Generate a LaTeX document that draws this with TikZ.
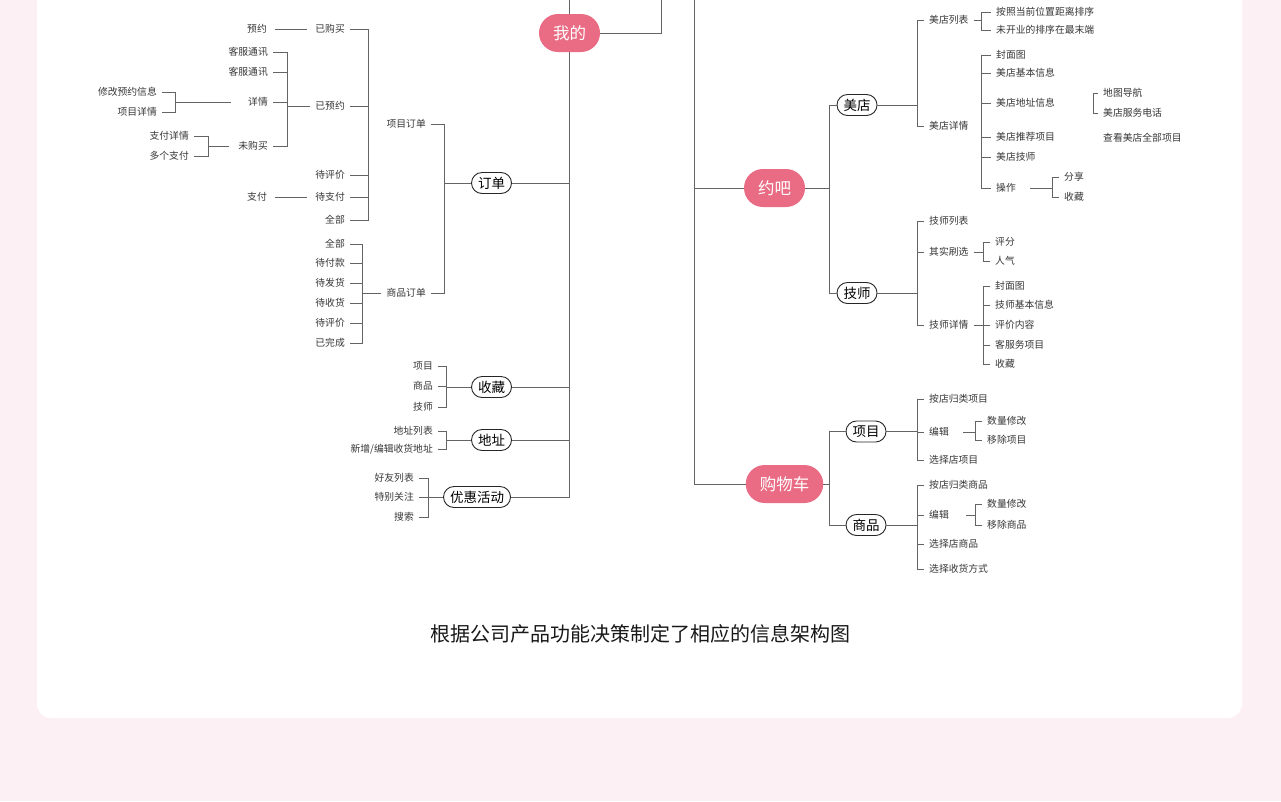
\documentclass[tikz,border=0pt]{standalone}
\usepackage{fontspec}
\setmainfont{Noto Sans CJK SC}
\usepackage{tikz}
\usetikzlibrary{positioning, calc}
\definecolor{bgpink}{RGB}{252,240,244}
\definecolor{hubpink}{RGB}{233,108,132}
\definecolor{linegray}{RGB}{100,100,100}
\definecolor{textgray}{RGB}{55,55,55}
\tikzset{
  ln/.style={draw=linegray, line width=1pt},
  lk/.style={ln, shorten >=3pt, shorten <=3pt},
  txt/.style={font=\fontsize{9.8}{11}\selectfont, text=textgray,
    inner xsep=5pt, inner ysep=2pt},
  txtl/.style={txt, anchor=east},
  txtr/.style={txt, anchor=west},
  hub/.style={rectangle, rounded corners=19pt, fill=hubpink, text=white,
    font=\fontsize{16.5}{18}\selectfont, minimum height=38pt,
    inner xsep=14pt, inner ysep=0pt},
  sub/.style={rectangle, rounded corners=10.5pt, draw=black!85, fill=white,
    line width=0.9pt, font=\fontsize{13.5}{15}\selectfont,
    minimum height=21pt, inner xsep=6.5pt, inner ysep=0pt}
}

\begin{document}
\begin{tikzpicture}[x=1pt, y=-1pt]

  %% ── background ───────────────────────────────────────────
  \useasboundingbox (0,0) rectangle (1281,801);
  \fill[bgpink] (0,0) rectangle (1281,801);
  \fill[white, rounded corners=14pt] (37,-30) rectangle (1242,718);

  %% ── hubs and trunks ──────────────────────────────────────
  \node[hub] (wd)  at (569.5,33)  {我的};
  \node[hub] (yb)  at (774.5,188) {约吧};
  \node[hub] (gwc) at (784.5,484) {购物车};

  \coordinate (topl) at (569.5,0);
  \coordinate (topm) at (661,0);
  \coordinate (topr) at (694,0);

  \node[sub] (dd) at (491.5,183) {订单};
  \node[sub] (sc) at (491.5,387) {收藏};
  \node[sub] (dz) at (491.5,440) {地址};
  \node[sub] (yh) at (477,497)   {优惠活动};

  \draw[ln] (topl) -- (wd.north);
  \draw[ln] (wd.east) -| (topm);
  \draw[ln] (wd.south) |- (yh.east);
  \foreach \n in {dd, sc, dz}
    \draw[ln] (\n.east) -- (wd.south |- \n.east);
  \draw[ln] (topr) |- (gwc.west);
  \draw[ln] (yb.west) -- (topr |- yb.west);

  \node[sub] (md) at (857,105)   {美店};
  \node[sub] (js) at (857,293)   {技师};
  \node[sub] (xm) at (866,431.5) {项目};
  \node[sub] (sp) at (866,525)   {商品};

  \coordinate (s-yb) at (829,0);
  \draw[ln] (md.west) -| (s-yb |- js.west) -- (js.west);
  \draw[ln] (yb.east) -- (s-yb |- yb.east);
  \draw[ln] (xm.west) -| (s-yb |- sp.west) -- (sp.west);
  \draw[ln] (gwc.east) -- (s-yb |- gwc.east);

  %% ── 订单 ─────────────────────────────────────────────────
  \node[txtl] (xmdd) at (431,124) {项目订单};
  \node[txtl] (spdd) at (431,293) {商品订单};
  \coordinate (s-dd) at (444,0);
  \draw[ln] (xmdd.east) -| (s-dd |- spdd.east) -- (spdd.east);
  \draw[ln] (dd.west) -- (s-dd |- dd.west);

  \foreach \lab/\ypos [count=\i] in {已购买/29, 已预约/106, 待评价/175, 待支付/197, 全部/220}
    \node[txtl] (xo\i) at (350,\ypos) {\lab};
  \coordinate (s-xo) at (368,0);
  \draw[ln] (xo1.east) -| (s-xo |- xo5.east) -- (xo5.east);
  \foreach \i in {2,3,4}
    \draw[ln] (xo\i.east) -- (s-xo |- xo\i.east);

  \node[txtl] (yy) at (272,29)  {预约};
  \node[txtl] (zf) at (272,197) {支付};
  \draw[lk] (yy.east) -- (xo1.west);
  \draw[lk] (zf.east) -- (xo4.west);

  \foreach \lab/\ypos [count=\i] in {客服通讯/52, 客服通讯/72, 详情/102, 未购买/146}
    \node[txtl] (yo\i) at (273,\ypos) {\lab};
  \coordinate (s-yo) at (287,0);
  \draw[ln] (yo1.east) -| (s-yo |- yo4.east) -- (yo4.east);
  \foreach \i in {2,3}
    \draw[ln] (yo\i.east) -- (s-yo |- yo\i.east);
  \draw[ln] (xo2.west) -- (s-yo |- xo2.west);

  \node[txtl] (xq1) at (162,92)  {修改预约信息};
  \node[txtl] (xq2) at (162,112) {项目详情};
  \coordinate (s-xq) at (175,0);
  \draw[ln] (xq1.east) -| (s-xq |- xq2.east) -- (xq2.east);
  \draw[ln, shorten <=12pt] (yo3.west) -- (s-xq |- yo3.west);

  \node[txtl] (wg1) at (194,136) {支付详情};
  \node[txtl] (wg2) at (194,156) {多个支付};
  \coordinate (s-wg) at (208,0);
  \draw[ln] (wg1.east) -| (s-wg |- wg2.east) -- (wg2.east);
  \draw[ln, shorten <=4pt] (yo4.west) -- (s-wg |- yo4.west);

  \foreach \lab/\ypos [count=\i] in {全部/244, 待付款/263, 待发货/283, 待收货/303, 待评价/323, 已完成/343}
    \node[txtl] (so\i) at (350,\ypos) {\lab};
  \coordinate (s-so) at (362,0);
  \draw[ln] (so1.east) -| (s-so |- so6.east) -- (so6.east);
  \foreach \i in {2,...,5}
    \draw[ln] (so\i.east) -- (s-so |- so\i.east);
  \draw[ln] (spdd.west) -- (s-so |- spdd.west);

  %% ── 收藏 / 地址 / 优惠活动 ───────────────────────────────
  \coordinate (s-sc) at (446,0);
  \foreach \lab/\ypos [count=\i] in {项目/366, 商品/386, 技师/407}
    \node[txtl] (sc\i) at (438,\ypos) {\lab};
  \draw[ln] (sc1.east) -| (s-sc |- sc3.east) -- (sc3.east);
  \draw[ln] (sc2.east) -- (s-sc |- sc2.east);
  \draw[ln] (sc.west) -- (s-sc |- sc.west);

  \foreach \lab/\ypos [count=\i] in {地址列表/431, {新增/编辑收货地址}/449}
    \node[txtl] (dz\i) at (438,\ypos) {\lab};
  \draw[ln] (dz1.east) -| (s-sc |- dz2.east) -- (dz2.east);
  \draw[ln] (dz.west) -- (s-sc |- dz.west);

  \foreach \lab/\ypos [count=\i] in {好友列表/478, 特别关注/497, 搜索/517}
    \node[txtl] (yh\i) at (419,\ypos) {\lab};
  \coordinate (s-yh) at (428,0);
  \draw[ln] (yh1.east) -| (s-yh |- yh3.east) -- (yh3.east);
  \draw[ln] (yh2.east) -- (yh.west);

  %% ── 美店 ─────────────────────────────────────────────────
  \coordinate (s-md) at (917,0);
  \foreach \lab/\ypos [count=\i] in {美店列表/20, 美店详情/126}
    \node[txtr] (md\i) at (924,\ypos) {\lab};
  \draw[ln] (md1.west) -| (s-md |- md2.west) -- (md2.west);
  \draw[ln] (md.east) -- (s-md |- md.east);

  \coordinate (s-lb) at (981,0);
  \foreach \lab/\ypos [count=\i] in {按照当前位置距离排序/12, 未开业的排序在最末端/30}
    \node[txtr] (lb\i) at (991,\ypos) {\lab};
  \draw[ln] (lb1.west) -| (s-lb |- lb2.west) -- (lb2.west);
  \draw[ln] (md1.east) -- (s-lb |- md1.east);

  \foreach \lab/\ypos [count=\i] in {封面图/55, 美店基本信息/73, 美店地址信息/103, 美店推荐项目/137, 美店技师/157, 操作/188}
    \node[txtr] (mx\i) at (991,\ypos) {\lab};
  \draw[ln] (mx1.west) -| (s-lb |- mx6.west) -- (mx6.west);
  \foreach \i in {2,...,5}
    \draw[ln] (mx\i.west) -- (s-lb |- mx\i.west);

  \coordinate (s-dt) at (1093,0);
  \foreach \lab/\ypos [count=\i] in {地图导航/93, 美店服务电话/113}
    \node[txtr] (dt\i) at (1098,\ypos) {\lab};
  \draw[ln] (dt1.west) -| (s-dt |- dt2.west) -- (dt2.west);
  \node[txtr] (ckqb) at (1098,138) {查看美店全部项目};

  \coordinate (s-cz) at (1052,0);
  \foreach \lab/\ypos [count=\i] in {分享/177, 收藏/197}
    \node[txtr] (cz\i) at (1059,\ypos) {\lab};
  \draw[ln] (cz1.west) -| (s-cz |- cz2.west) -- (cz2.west);
  \draw[ln, shorten <=9pt] (mx6.east) -- (s-cz |- mx6.east);

  %% ── 技师 ─────────────────────────────────────────────────
  \foreach \lab/\ypos [count=\i] in {技师列表/221, 其实刷选/252, 技师详情/325}
    \node[txtr] (js\i) at (924,\ypos) {\lab};
  \draw[ln] (js1.west) -| (s-md |- js3.west) -- (js3.west);
  \draw[ln] (js2.west) -- (s-md |- js2.west);
  \draw[ln] (js.east) -- (s-md |- js.east);

  \coordinate (s-sx) at (983,0);
  \foreach \lab/\ypos [count=\i] in {评分/242, 人气/261}
    \node[txtr] (sx\i) at (990,\ypos) {\lab};
  \draw[ln] (sx1.west) -| (s-sx |- sx2.west) -- (sx2.west);
  \draw[ln] (js2.east) -- (s-sx |- js2.east);

  \foreach \lab/\ypos [count=\i] in {封面图/286, 技师基本信息/305, 评价内容/325, 客服务项目/345, 收藏/364}
    \node[txtr] (jx\i) at (990,\ypos) {\lab};
  \draw[ln] (jx1.west) -| (s-sx |- jx5.west) -- (jx5.west);
  \foreach \i in {2,3,4}
    \draw[ln] (jx\i.west) -- (s-sx |- jx\i.west);
  \draw[ln] (js3.east) -- (s-sx |- js3.east);

  %% ── 购物车 ───────────────────────────────────────────────
  \foreach \lab/\ypos [count=\i] in {按店归类项目/399, 编辑/432, 选择店项目/460}
    \node[txtr] (xp\i) at (924,\ypos) {\lab};
  \draw[ln] (xp1.west) -| (s-md |- xp3.west) -- (xp3.west);
  \draw[ln] (xp2.west) -- (s-md |- xp2.west);
  \draw[ln] (xm.east) -- (s-md |- xm.east);

  \coordinate (s-bj) at (975,0);
  \foreach \lab/\ypos [count=\i] in {数量修改/421, 移除项目/440}
    \node[txtr] (xb\i) at (982,\ypos) {\lab};
  \draw[ln] (xb1.west) -| (s-bj |- xb2.west) -- (xb2.west);
  \draw[ln, shorten <=9pt] (xp2.east) -- (s-bj |- xp2.east);

  \foreach \lab/\ypos [count=\i] in {按店归类商品/485, 编辑/515, 选择店商品/544, 选择收货方式/569}
    \node[txtr] (sq\i) at (924,\ypos) {\lab};
  \draw[ln] (sq1.west) -| (s-md |- sq4.west) -- (sq4.west);
  \foreach \i in {2,3}
    \draw[ln] (sq\i.west) -- (s-md |- sq\i.west);
  \draw[ln] (sp.east) -- (s-md |- sp.east);

  \foreach \lab/\ypos [count=\i] in {数量修改/504, 移除商品/525}
    \node[txtr] (sb\i) at (982,\ypos) {\lab};
  \draw[ln] (sb1.west) -| (s-bj |- sb2.west) -- (sb2.west);
  \draw[ln, shorten <=12pt] (sq2.east) -- (s-bj |- sq2.east);

  %% caption
  \node[font=\fontsize{20}{23}\selectfont, text=black!90] (cap) at (640,634)
    {根据公司产品功能决策制定了相应的信息架构图};

\end{tikzpicture}
\end{document}
